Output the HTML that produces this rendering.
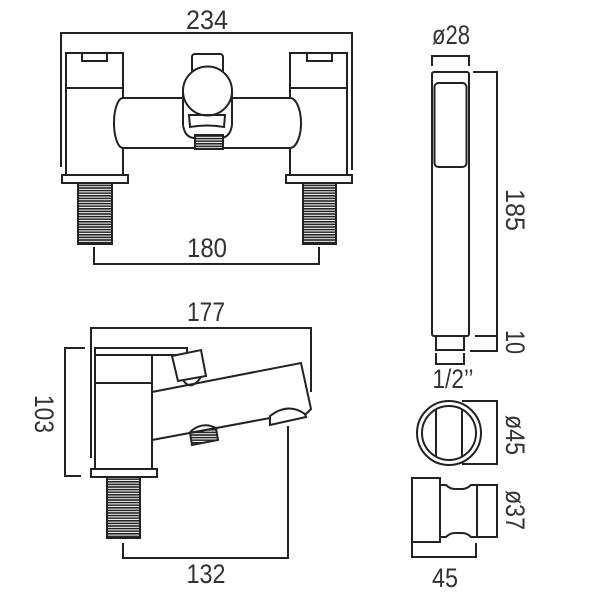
<!DOCTYPE html>
<html><head><meta charset="utf-8"><style>
html,body{margin:0;padding:0;background:#fff;}
svg{display:block;}
text{font-family:"Liberation Sans",sans-serif;font-size:27px;fill:#333;}
</style></head><body>
<svg width="600" height="600" viewBox="0 0 600 600" xmlns="http://www.w3.org/2000/svg">
<defs>
<pattern id="th" width="6" height="2.6" patternUnits="userSpaceOnUse">
<rect width="6" height="2.6" fill="#fff"/><rect y="0" width="6" height="1.6" fill="#222"/>
</pattern>
</defs>
<g fill="none" stroke="#222" stroke-width="2">
<!-- TOP VIEW -->
<polyline points="61,167 61,33 352,33 352,170"/>
<polyline points="94,247 94,264 319,264 319,247"/>
<rect x="66" y="53" width="57" height="35" fill="#fff"/>
<rect x="82" y="53" width="25" height="8"/>
<line x1="66" y1="88" x2="66" y2="175"/>
<line x1="123" y1="88" x2="123" y2="98"/>
<line x1="123" y1="148" x2="123" y2="175"/>
<rect x="62" y="175" width="66" height="8" fill="#fff"/>
<rect x="78" y="183" width="34" height="61" fill="url(#th)"/>
<rect x="290" y="53" width="57" height="35" fill="#fff"/>
<rect x="307" y="53" width="25" height="8"/>
<line x1="347" y1="88" x2="347" y2="175"/>
<line x1="290" y1="88" x2="290" y2="98"/>
<line x1="290" y1="148" x2="290" y2="175"/>
<rect x="286" y="175" width="66" height="8" fill="#fff"/>
<rect x="303" y="183" width="33" height="61" fill="url(#th)"/>
<line x1="123" y1="98" x2="290" y2="98"/>
<line x1="123" y1="148" x2="290" y2="148"/>
<path d="M123 98 A9 25 0 0 0 123 148"/>
<path d="M290 98 A11 25 0 0 1 290 148"/>
<rect x="192" y="54" width="31" height="20" rx="3" fill="#fff"/>
<path d="M183 91 L183 125 Q185 138 195 138 L220 138 Q230 138 232 125 L232 91" fill="#fff"/>
<circle cx="207.5" cy="91" r="24.5" fill="#fff"/>
<path d="M189 115 L225 115 L224 127 Q207 124 190 127 Z"/>
<rect x="195" y="135" width="28" height="14" fill="url(#th)"/>

<!-- SIDE VIEW -->
<polyline points="91,458 91,328 311,328 311,392"/>
<polyline points="85,348 65,348 65,476 81,476"/>
<polyline points="123,543 123,558 288,558 288,426"/>
<rect x="95" y="348" width="92" height="7"/>
<polyline points="95,355 95,469"/>
<polyline points="152,355 152,469"/>
<line x1="95" y1="383" x2="152" y2="383"/>
<rect x="91" y="469" width="66" height="8" fill="#fff"/>
<rect x="107" y="477" width="33" height="61" fill="url(#th)"/>
<polygon points="172,356 201,350 206,376 178,381" fill="#fff"/>
<path d="M183 380 Q191 392 201 377"/>
<path d="M152 392 L301 363 L311 409 L305 415"/>
<path d="M152 440 L270 418"/>
<path d="M270 425 L270 416 Q288 402 305 414 L306 417 Z" fill="#fff"/>
<path d="M190 432 Q202 421 216 428"/>
<polygon points="190,433 216,428 218,440 192,445" fill="url(#th)"/>

<!-- HANDSET -->
<polyline points="432,66 432,56 469,56 469,66"/>
<rect x="432" y="72" width="37" height="264" rx="2"/>
<rect x="434.5" y="83" width="32" height="84" rx="4"/>
<rect x="436" y="336" width="28" height="14"/>
<polyline points="436,353 436,364 464,364 464,353"/>
<polyline points="473,72 497,72 497,351 470,351"/>
<line x1="475" y1="336" x2="497" y2="336"/>
<polyline points="462,401 497,401 497,464 462,464"/>
<circle cx="449" cy="433" r="32" fill="#fff"/>
<circle cx="449" cy="433" r="27"/>
<line x1="436" y1="409" x2="436" y2="457"/>
<line x1="462" y1="409" x2="462" y2="457"/>
<rect x="412" y="478" width="28" height="64"/>
<path d="M440 485 L446 485 Q450 489 455 489 L462 489 Q467 489 471 485 L477 485 L477 537 L471 537 Q467 533 462 533 L455 533 Q450 533 446 537 L440 537"/>
<polyline points="477,485 497,485 497,537 477,537"/>
<polyline points="412,543 412,557 476,557 476,543"/>
</g>
<g>
<text x="207" y="29" text-anchor="middle" textLength="42" lengthAdjust="spacingAndGlyphs">234</text>
<text x="207" y="257" text-anchor="middle" textLength="40" lengthAdjust="spacingAndGlyphs">180</text>
<text x="206" y="321" text-anchor="middle" textLength="38" lengthAdjust="spacingAndGlyphs">177</text>
<text x="206" y="583" text-anchor="middle" textLength="39" lengthAdjust="spacingAndGlyphs">132</text>
<text x="451" y="44" text-anchor="middle" textLength="38" lengthAdjust="spacingAndGlyphs">ø28</text>
<text x="453" y="388" text-anchor="middle" textLength="41" lengthAdjust="spacingAndGlyphs">1/2’’</text>
<text x="445" y="587" text-anchor="middle" textLength="26" lengthAdjust="spacingAndGlyphs">45</text>
<text transform="translate(35,414) rotate(90)" text-anchor="middle" textLength="38" lengthAdjust="spacingAndGlyphs">103</text>
<text transform="translate(506,210) rotate(90)" text-anchor="middle" textLength="42" lengthAdjust="spacingAndGlyphs">185</text>
<text transform="translate(506,342) rotate(90)" text-anchor="middle" textLength="24" lengthAdjust="spacingAndGlyphs">10</text>
<text transform="translate(506,435) rotate(90)" text-anchor="middle" textLength="40" lengthAdjust="spacingAndGlyphs">ø45</text>
<text transform="translate(506,510) rotate(90)" text-anchor="middle" textLength="40" lengthAdjust="spacingAndGlyphs">ø37</text>
</g>
</svg>
</body></html>
